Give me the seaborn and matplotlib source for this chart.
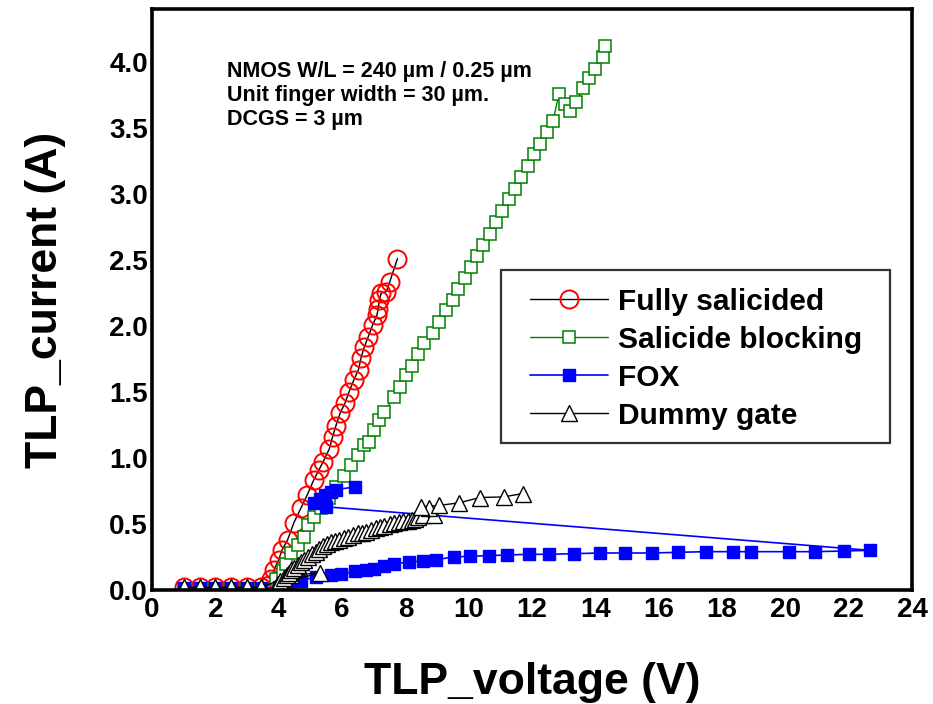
import numpy as np
import pandas as pd
import matplotlib
matplotlib.use("Agg")
import matplotlib.pyplot as plt
from matplotlib.ticker import MultipleLocator, FormatStrFormatter
from matplotlib.patches import Rectangle
import seaborn as sns

# Data (TLP voltage in V, TLP current in A)
fully_v = [1.0, 1.5, 2.0, 2.5, 3.0, 3.45, 3.7, 3.75, 3.85, 4.0, 4.1, 4.28, 4.48, 4.7, 4.9,
           5.1, 5.27, 5.4, 5.6, 5.7, 5.8, 5.94, 6.1, 6.22, 6.37, 6.52, 6.6, 6.7, 6.83, 6.97,
           7.1, 7.14, 7.18, 7.24, 7.4, 7.5, 7.75]
fully_i = [0.02, 0.02, 0.02, 0.02, 0.02, 0.02, 0.04, 0.08, 0.15, 0.23, 0.3, 0.38, 0.51, 0.62, 0.72,
           0.83, 0.91, 0.97, 1.07, 1.16, 1.24, 1.34, 1.42, 1.5, 1.59, 1.67, 1.76, 1.84, 1.92, 2.01,
           2.08, 2.13, 2.2, 2.25, 2.26, 2.33, 2.51]

block_v = [1.0, 1.5, 2.0, 2.5, 3.0, 3.45, 3.9, 4.13, 4.22, 4.38, 4.6, 4.8, 4.92, 5.1, 5.33,
           5.58, 5.8, 6.06, 6.28, 6.5, 6.7, 6.86, 7.0, 7.17, 7.33, 7.65, 7.84, 8.03, 8.22, 8.41,
           8.6, 8.86, 9.05, 9.27, 9.49, 9.65, 9.87, 10.06, 10.26, 10.46, 10.66, 10.86, 11.06,
           11.26, 11.46, 11.66, 11.86, 12.06, 12.26, 12.46, 12.66, 12.85, 13.05, 13.2, 13.4,
           13.6, 13.8, 14.0, 14.25, 14.3]
block_i = [0.01, 0.01, 0.01, 0.01, 0.01, 0.01, 0.08, 0.14, 0.2, 0.28, 0.34, 0.4, 0.49, 0.55, 0.62,
           0.7, 0.78, 0.86, 0.95, 1.02, 1.1, 1.12, 1.21, 1.29, 1.35, 1.46, 1.54, 1.63, 1.7, 1.79,
           1.87, 1.95, 2.03, 2.12, 2.2, 2.28, 2.36, 2.45, 2.53, 2.61, 2.7, 2.79, 2.87,
           2.96, 3.04, 3.13, 3.21, 3.3, 3.38, 3.47, 3.55, 3.76, 3.68, 3.63, 3.7,
           3.8, 3.88, 3.95, 4.04, 4.12]

fox_v = [1.0, 1.5, 2.0, 2.5, 3.0, 3.45, 4.0, 4.35, 4.7, 5.17, 5.65, 5.97, 6.4, 6.76, 7.0,
         7.33, 7.65, 8.1, 8.57, 8.98, 9.52, 10.03, 10.63, 11.2, 11.9, 12.54, 13.33, 14.16,
         14.95, 15.78, 16.6, 17.5, 18.35, 18.9, 20.1, 20.95, 21.84, 22.67,
         5.5, 5.1, 5.3, 5.45, 5.65, 5.8, 6.4]
fox_i = [0.015, 0.015, 0.015, 0.015, 0.015, 0.015, 0.02, 0.04, 0.07, 0.1, 0.11, 0.12, 0.14, 0.15, 0.16,
         0.18, 0.2, 0.21, 0.22, 0.23, 0.25, 0.255, 0.26, 0.265, 0.27, 0.27, 0.275, 0.28,
         0.28, 0.28, 0.285, 0.29, 0.29, 0.29, 0.29, 0.29, 0.295, 0.3,
         0.63, 0.66, 0.69, 0.72, 0.74, 0.76, 0.78]

dummy_v = [1.0, 1.5, 2.0, 2.5, 3.0, 3.45, 4.4, 5.3, 3.95, 4.05, 4.17, 4.25, 4.33, 4.4, 4.48,
           4.6, 4.7, 4.8, 4.92, 5.05, 5.17, 5.28, 5.4, 5.52, 5.65, 5.78, 5.9, 6.05, 6.19,
           6.35, 6.5, 6.63, 6.76, 6.92, 7.08, 7.2, 7.33, 7.5, 7.65, 7.8, 7.94, 8.07, 8.2,
           8.3, 8.41, 8.57, 8.9, 8.76, 8.5, 9.05, 9.7, 10.35, 11.1, 11.7]
dummy_i = [0.02, 0.02, 0.02, 0.02, 0.02, 0.02, 0.11, 0.13, 0.04, 0.07, 0.09, 0.11, 0.13, 0.15, 0.17,
           0.19, 0.21, 0.23, 0.25, 0.27, 0.29, 0.31, 0.33, 0.345, 0.36, 0.37, 0.38, 0.39, 0.4,
           0.415, 0.43, 0.435, 0.44, 0.455, 0.47, 0.477, 0.485, 0.497, 0.51, 0.515, 0.52, 0.525, 0.53,
           0.54, 0.55, 0.57, 0.57, 0.62, 0.63, 0.64, 0.66, 0.70, 0.705, 0.73]

note = "NMOS W/L = 240 µm / 0.25 µm\nUnit finger width = 30 µm.\nDCGS = 3 µm"

sns.set_style("white")
plt.rcParams["font.family"] = ["Liberation Sans", "DejaVu Sans"]
plt.rcParams["font.weight"] = "bold"
plt.rcParams["text.color"] = "black"
plt.rcParams["axes.labelcolor"] = "black"
plt.rcParams["xtick.color"] = "black"
plt.rcParams["ytick.color"] = "black"

fig = plt.figure(figsize=(9.33, 7.04), dpi=100)
ax = fig.add_axes([0.163, 0.162, 0.8145, 0.825])

sns.lineplot(x=fully_v, y=fully_i, sort=False, estimator=None, ax=ax, color="black", lw=1.0,
             marker="o", markersize=13, markerfacecolor="none", markeredgecolor="red",
             markeredgewidth=1.4, label="Fully salicided")
sns.lineplot(x=block_v, y=block_i, sort=False, estimator=None, ax=ax, color="green", lw=1.0,
             marker="s", markersize=9, markerfacecolor="white", markeredgecolor="green",
             markeredgewidth=1.1, label="Salicide blocking")
sns.lineplot(x=fox_v, y=fox_i, sort=False, estimator=None, ax=ax, color="blue", lw=1.2,
             marker="s", markersize=9, markerfacecolor="blue", markeredgecolor="blue",
             markeredgewidth=1.0, label="FOX")
sns.lineplot(x=dummy_v, y=dummy_i, sort=False, estimator=None, ax=ax, color="black", lw=1.0,
             marker="^", markersize=12, markerfacecolor="white", markeredgecolor="black",
             markeredgewidth=1.0, label="Dummy gate")

ax.set_xlim(0, 24)
ax.set_ylim(0, 4.4)
ax.xaxis.set_major_locator(MultipleLocator(2))
ax.xaxis.set_minor_locator(MultipleLocator(1))
ax.yaxis.set_major_locator(MultipleLocator(0.5))
ax.yaxis.set_minor_locator(MultipleLocator(0.25))
ax.yaxis.set_major_formatter(FormatStrFormatter("%.1f"))
ax.tick_params(which="major", direction="in", length=10, width=2.2, labelsize=20)
ax.tick_params(axis="x", which="major", pad=5)
ax.tick_params(axis="y", which="major", pad=3)
ax.tick_params(which="minor", direction="in", length=5, width=2.2)
for t in ax.get_xticklabels() + ax.get_yticklabels():
    t.set_fontweight("bold")
for s in ax.spines.values():
    s.set_linewidth(2.6)
    s.set_color("black")

ax.set_xlabel("TLP_voltage (V)", fontsize=32, fontweight="bold", labelpad=28)
ax.set_ylabel("TLP_current (A)", fontsize=32, fontweight="bold", labelpad=31)

ax.text(2.38, 4.01, note, fontsize=15.5, fontweight="bold", va="top", ha="left", linespacing=1.2)

# legend frame drawn separately so its padding can match the reference
ax.add_patch(Rectangle((0.459, 0.253), 0.512, 0.298, transform=ax.transAxes,
                       facecolor="white", edgecolor="#333333", linewidth=1.6, zorder=4.5))
leg = ax.legend(loc="upper left", bbox_to_anchor=(0.462, 0.5665), borderaxespad=0,
                frameon=False, prop={"size": 21.5, "weight": "bold"},
                handlelength=2.6, handletextpad=0.35, borderpad=0.9, labelspacing=0.335)

fig.savefig("out.png", dpi=100)
